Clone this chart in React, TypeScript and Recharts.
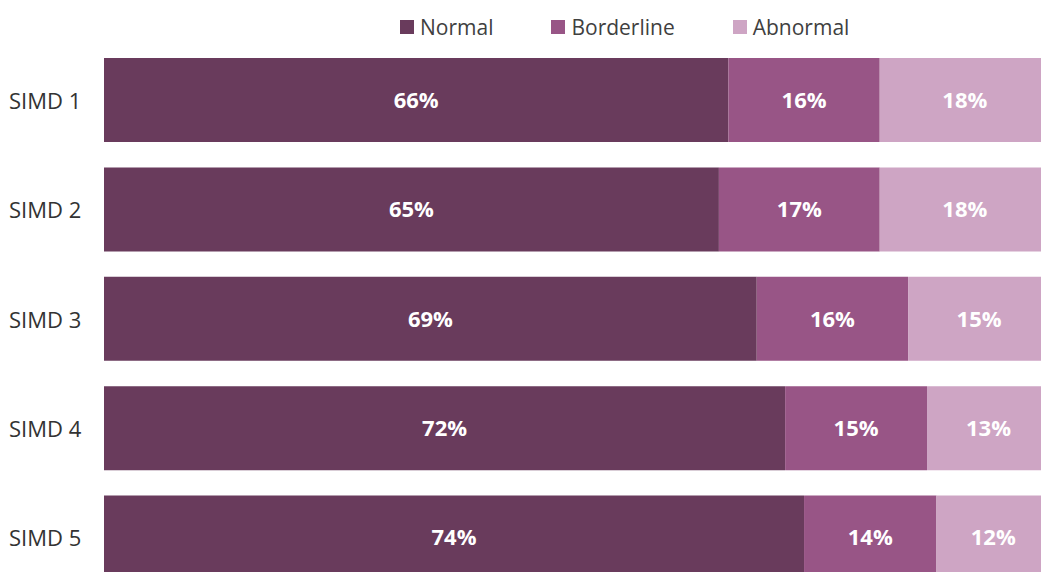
import React from "react";
import { BarChart, Bar, XAxis, YAxis, Legend, LabelList } from "recharts";

const categories = ["SIMD 1", "SIMD 2", "SIMD 3", "SIMD 4", "SIMD 5"];
const normal = [66, 65, 69, 72, 74];
const borderline = [16, 17, 16, 15, 14];
const abnormal = [18, 18, 15, 13, 12];

const seriesNames = ["Normal", "Borderline", "Abnormal"];
const colors = ["#693B5C", "#985586", "#CEA5C4"];

const data = categories.map((name, i) => ({
  name,
  Normal: normal[i],
  Borderline: borderline[i],
  Abnormal: abnormal[i],
}));

const FONT = "'Open Sans', 'Noto Sans', sans-serif";

const CustomLegend = () => (
  <div style={{ display: "flex", alignItems: "center", fontFamily: FONT, fontSize: 21, color: "#404040", height: 28 }}>
    {seriesNames.map((s, i) => (
      <div key={s} style={{ display: "flex", alignItems: "center", marginRight: i < 2 ? 58 : 0 }}>
        <div style={{ width: 14, height: 14, background: colors[i], marginRight: 6 }} />
        <span style={{ lineHeight: "28px" }}>{s}</span>
      </div>
    ))}
  </div>
);

const YTick = (props: any) => {
  const { y, payload } = props;
  return (
    <text x={9} y={y} dominantBaseline="central" fontFamily={FONT} fontSize={22} fill="#333333">
      {payload.value}
    </text>
  );
};

export default function App() {
  return (
    <div style={{ position: "fixed", top: 0, left: 0, width: 1041, height: 572, overflow: "hidden", background: "#fff" }}>
      <BarChart
        width={1050}
        height={592}
        data={data}
        layout="vertical"
        margin={{ top: 17, right: 0, bottom: 0, left: 0 }}
        barSize={84}
      >
        <XAxis type="number" domain={[0, 100]} hide />
        <YAxis
          type="category"
          dataKey="name"
          width={104}
          axisLine={false}
          tickLine={false}
          tick={<YTick />}
        />
        <Legend
          verticalAlign="top"
          content={<CustomLegend />}
          wrapperStyle={{ position: "absolute", top: 13, left: 400, width: "auto" }}
        />
        {seriesNames.map((s, i) => (
          <Bar key={s} dataKey={s} stackId="a" fill={colors[i]} isAnimationActive={false}>
            <LabelList
              dataKey={s}
              position="center"
              formatter={(v: any) => `${v}%`}
              fill="#ffffff"
              fontFamily={FONT}
              fontSize={22}
              fontWeight="bold"
            />
          </Bar>
        ))}
      </BarChart>
    </div>
  );
}
